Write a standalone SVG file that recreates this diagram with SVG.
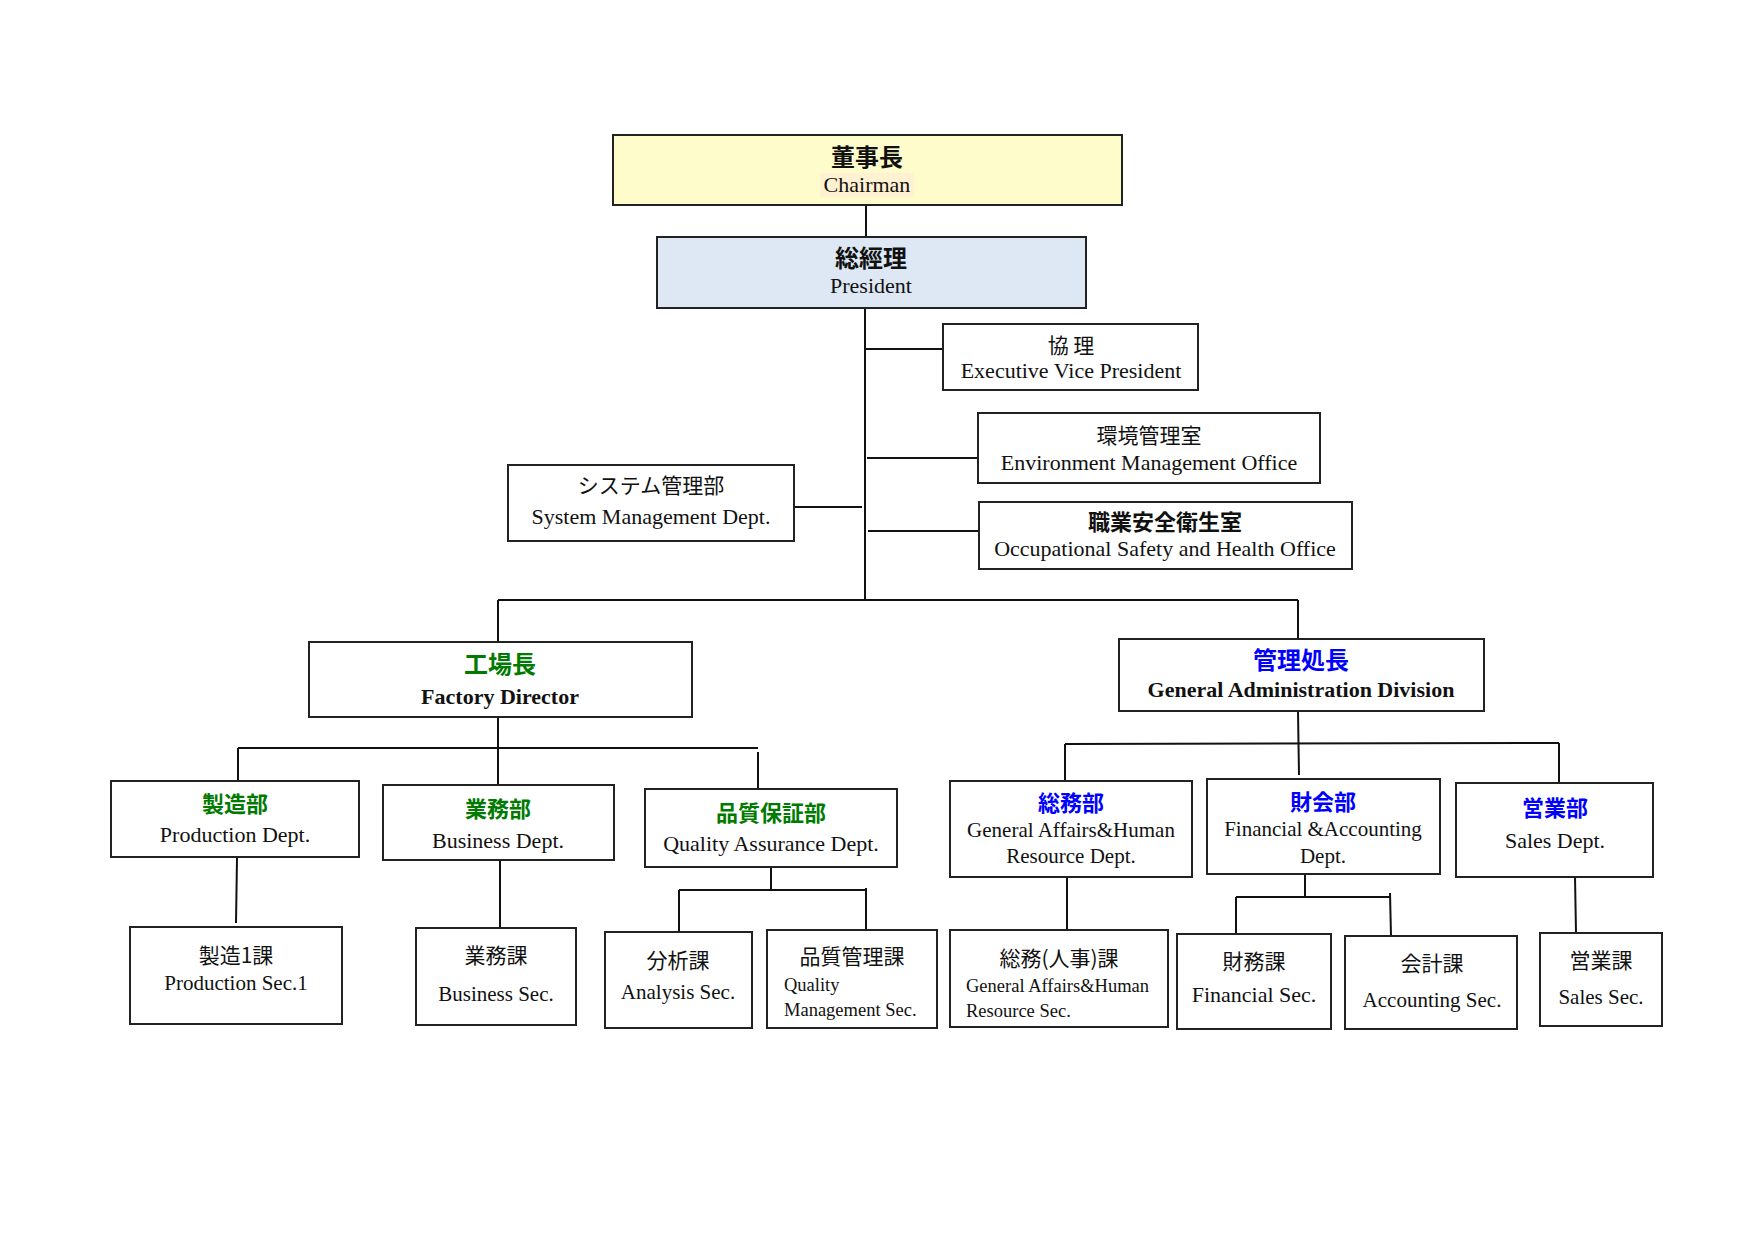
<svg xmlns="http://www.w3.org/2000/svg" width="1754" height="1240" viewBox="0 0 1754 1240">
<style>
.box{fill:#fff;stroke:#222;stroke-width:2}
.ln{stroke:#111;stroke-width:2;fill:none}
text{text-anchor:middle}
.cj{font-family:"Noto Sans CJK JP","Noto Sans CJK TC",sans-serif;font-size:21px;fill:#111}
.cjb{font-family:"Noto Sans CJK JP","Noto Sans CJK TC",sans-serif;font-size:22px;font-weight:bold;fill:#111}
.en{font-family:"Liberation Serif","Times New Roman",serif;font-size:22px;fill:#111}
.en2{font-family:"Liberation Serif","Times New Roman",serif;font-size:21px;fill:#111}
.enb{font-family:"Liberation Serif","Times New Roman",serif;font-size:22px;font-weight:bold;fill:#111}
.sm{font-family:"Liberation Serif","Times New Roman",serif;font-size:18.5px;fill:#111;text-anchor:start}
.g{fill:#007a00}
.b{fill:#0000ff}
</style>
<rect width="1754" height="1240" fill="#fff"/>
<g id="connectors">
<line class="ln" x1="866" y1="205" x2="866" y2="237"/>
<line class="ln" x1="865" y1="308" x2="865" y2="600"/>
<line class="ln" x1="865" y1="349" x2="943" y2="349"/>
<line class="ln" x1="867" y1="458" x2="978" y2="458"/>
<line class="ln" x1="868" y1="531" x2="979" y2="531"/>
<line class="ln" x1="794" y1="507" x2="862" y2="507"/>
<line class="ln" x1="498" y1="600" x2="1298" y2="600"/>
<line class="ln" x1="498" y1="600" x2="498" y2="642"/>
<line class="ln" x1="1298" y1="600" x2="1298" y2="639"/>
<line class="ln" x1="498" y1="717" x2="498" y2="785"/>
<line class="ln" x1="238" y1="748" x2="758" y2="748"/>
<line class="ln" x1="238" y1="748" x2="238" y2="781"/>
<line class="ln" x1="758" y1="752" x2="758" y2="789"/>
<line class="ln" x1="237" y1="858" x2="236" y2="923"/>
<line class="ln" x1="500" y1="860" x2="500" y2="928"/>
<line class="ln" x1="771" y1="867" x2="771" y2="890"/>
<line class="ln" x1="679" y1="890" x2="866" y2="890"/>
<line class="ln" x1="679" y1="890" x2="679" y2="932"/>
<line class="ln" x1="866" y1="888" x2="866" y2="930"/>
<line class="ln" x1="1298" y1="711" x2="1299" y2="775"/>
<line class="ln" x1="1065" y1="744" x2="1559" y2="743"/>
<line class="ln" x1="1065" y1="744" x2="1065" y2="781"/>
<line class="ln" x1="1559" y1="743" x2="1559" y2="783"/>
<line class="ln" x1="1067" y1="877" x2="1067" y2="930"/>
<line class="ln" x1="1305" y1="874" x2="1305" y2="897"/>
<line class="ln" x1="1236" y1="897" x2="1390" y2="897"/>
<line class="ln" x1="1236" y1="897" x2="1236" y2="934"/>
<line class="ln" x1="1390" y1="893" x2="1391" y2="936"/>
<line class="ln" x1="1575" y1="877" x2="1576" y2="933"/>
</g>
<g id="chairman">
<rect x="613" y="135" width="509" height="70" fill="#fffccc" stroke="#222" stroke-width="2"/>
<rect x="820" y="173" width="94" height="24" fill="#fff1d2"/>
<text class="cjb" x="867" y="166" style="font-size:24px">董事長</text>
<text class="en" x="867" y="192">Chairman</text>
</g>
<g id="president">
<rect x="657" y="237" width="429" height="71" fill="#dde8f4" stroke="#222" stroke-width="2"/>
<text class="cjb" x="871" y="267" style="font-size:24px">総經理</text>
<text class="en" x="871" y="293">President</text>
</g>
<g id="evp">
<rect class="box" x="943" y="324" width="255" height="66"/>
<text class="cj" x="1071" y="353">協 理</text>
<text class="en" x="1071" y="378">Executive Vice President</text>
</g>
<g id="env">
<rect class="box" x="978" y="413" width="342" height="70"/>
<text class="cj" x="1149" y="443">環境管理室</text>
<text class="en" x="1149" y="470">Environment Management Office</text>
</g>
<g id="osh">
<rect class="box" x="979" y="502" width="373" height="67"/>
<text class="cjb" x="1165" y="530">職業安全衛生室</text>
<text class="en" x="1165" y="556">Occupational Safety and Health Office</text>
</g>
<g id="sysmgmt">
<rect class="box" x="508" y="465" width="286" height="76"/>
<text class="cj" x="651" y="493">システム管理部</text>
<text class="en" x="651" y="524">System Management Dept.</text>
</g>
<g id="factory">
<rect class="box" x="309" y="642" width="383" height="75"/>
<text class="cjb g" x="500" y="673" style="font-size:24px">工場長</text>
<text class="enb" x="500" y="704">Factory Director</text>
</g>
<g id="production">
<rect class="box" x="111" y="781" width="248" height="76"/>
<text class="cjb g" x="235" y="812">製造部</text>
<text class="en" x="235" y="842">Production Dept.</text>
</g>
<g id="business">
<rect class="box" x="383" y="785" width="231" height="75"/>
<text class="cjb g" x="498" y="817">業務部</text>
<text class="en" x="498" y="848">Business Dept.</text>
</g>
<g id="qa">
<rect class="box" x="645" y="789" width="252" height="78"/>
<text class="cjb g" x="771" y="821">品質保証部</text>
<text class="en" x="771" y="851">Quality Assurance Dept.</text>
</g>
<g id="prodsec1">
<rect class="box" x="130" y="927" width="212" height="97"/>
<text class="cj" x="236" y="963">製造1課</text>
<text class="en2" x="236" y="990">Production Sec.1</text>
</g>
<g id="bizsec">
<rect class="box" x="416" y="928" width="160" height="97"/>
<text class="cj" x="496" y="963">業務課</text>
<text class="en2" x="496" y="1001">Business Sec.</text>
</g>
<g id="analysis">
<rect class="box" x="605" y="932" width="147" height="96"/>
<text class="cj" x="678" y="968">分析課</text>
<text class="en2" x="678" y="999">Analysis Sec.</text>
</g>
<g id="qms">
<rect class="box" x="767" y="930" width="170" height="98"/>
<text class="cj" x="852" y="964">品質管理課</text>
<text class="sm" x="784" y="991">Quality</text>
<text class="sm" x="784" y="1016">Management Sec.</text>
</g>
<g id="gadiv">
<rect class="box" x="1119" y="639" width="365" height="72"/>
<text class="cjb b" x="1301" y="669" style="font-size:24px">管理処長</text>
<text class="enb" x="1301" y="697">General Administration Division</text>
</g>
<g id="gahr">
<rect class="box" x="950" y="781" width="242" height="96"/>
<text class="cjb b" x="1071" y="811">総務部</text>
<text class="en2" x="1071" y="837">General Affairs&amp;Human</text>
<text class="en2" x="1071" y="863">Resource Dept.</text>
</g>
<g id="finacc">
<rect class="box" x="1207" y="779" width="233" height="95"/>
<text class="cjb b" x="1323" y="810">財会部</text>
<text class="en2" x="1323" y="836">Financial &amp;Accounting</text>
<text class="en2" x="1323" y="863">Dept.</text>
</g>
<g id="sales">
<rect class="box" x="1456" y="783" width="197" height="94"/>
<text class="cjb b" x="1555" y="816">営業部</text>
<text class="en" x="1555" y="848">Sales Dept.</text>
</g>
<g id="gahrsec">
<rect class="box" x="950" y="930" width="218" height="97"/>
<text class="cj" x="1059" y="966">総務(人事)課</text>
<text class="sm" x="966" y="992">General Affairs&amp;Human</text>
<text class="sm" x="966" y="1017">Resource Sec.</text>
</g>
<g id="finsec">
<rect class="box" x="1177" y="934" width="154" height="95"/>
<text class="cj" x="1254" y="969">財務課</text>
<text class="en" x="1254" y="1002">Financial Sec.</text>
</g>
<g id="accsec">
<rect class="box" x="1345" y="936" width="172" height="93"/>
<text class="cj" x="1432" y="971">会計課</text>
<text class="en2" x="1432" y="1007">Accounting Sec.</text>
</g>
<g id="salessec">
<rect class="box" x="1540" y="933" width="122" height="93"/>
<text class="cj" x="1601" y="968">営業課</text>
<text class="en2" x="1601" y="1004">Sales Sec.</text>
</g>
</svg>
